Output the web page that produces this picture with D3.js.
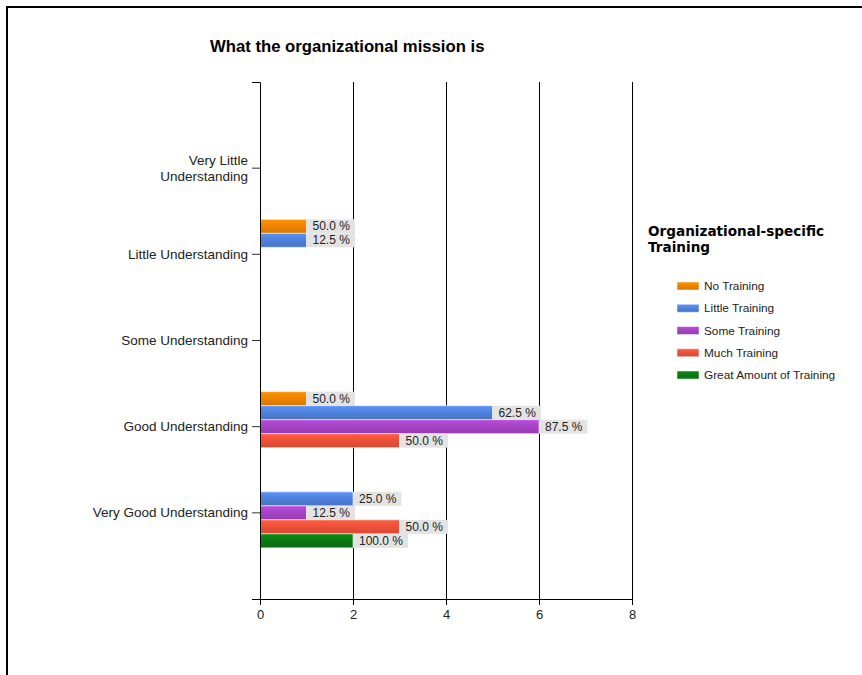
<!DOCTYPE html>
<html>
<head>
<meta charset="utf-8">
<script src="https://cdn.jsdelivr.net/npm/d3@7/dist/d3.min.js"></script>
<style>
  html, body { margin: 0; padding: 0; background: #fff; }
  svg { display: block; }
</style>
</head>
<body>
<svg id="chart" width="862" height="675"></svg>
<script>
// Response categories, top to bottom
const categories = [
  "Very Little Understanding",
  "Little Understanding",
  "Some Understanding",
  "Good Understanding",
  "Very Good Understanding"
];
const categoryLines = [
  ["Very Little", "Understanding"],
  ["Little Understanding"],
  ["Some Understanding"],
  ["Good Understanding"],
  ["Very Good Understanding"]
];

// Training groups (legend order)
const seriesNames = ["No Training", "Little Training", "Some Training", "Much Training", "Great Amount of Training"];
const seriesColors = ["#f08300", "#4f82dd", "#a643c6", "#ee5139", "#0b7a12"];

// Counts per category for each training group
const noTraining     = [0, 1, 0, 1, 0];
const littleTraining = [0, 1, 0, 5, 2];
const someTraining   = [0, 0, 0, 6, 1];
const muchTraining   = [0, 0, 0, 3, 3];
const greatTraining  = [0, 0, 0, 0, 2];

// Share of each group's respondents (bar labels)
const noTrainingPct     = [null, 50.0, null, 50.0, null];
const littleTrainingPct = [null, 12.5, null, 62.5, 25.0];
const someTrainingPct   = [null, null, null, 87.5, 12.5];
const muchTrainingPct   = [null, null, null, 50.0, 50.0];
const greatTrainingPct  = [null, null, null, null, 100.0];

const xTicks = [0, 2, 4, 6, 8];

const seriesValues = [noTraining, littleTraining, someTraining, muchTraining, greatTraining];
const seriesPct = [noTrainingPct, littleTrainingPct, someTrainingPct, muchTrainingPct, greatTrainingPct];

const svg = d3.select("#chart");
const font = "'Liberation Sans', Arial, sans-serif";

// Frame
svg.append("path")
  .attr("d", "M7,675V7H862")
  .attr("fill", "none").attr("stroke", "#000").attr("stroke-width", 2);

// Title
svg.append("text")
  .attr("x", 210).attr("y", 52)
  .attr("font-family", font).attr("font-weight", "bold").attr("font-size", 16.7)
  .attr("fill", "#000")
  .text("What the organizational mission is");

const plot = { left: 260, right: 632, top: 82, bottom: 599 };

const x = d3.scaleLinear().domain([0, 8]).range([plot.left, plot.right]);
const y = d3.scaleBand().domain(categories).range([plot.top, plot.bottom])
  .paddingInner(0).paddingOuter(0.5);
const ySub = d3.scaleBand().domain(seriesNames).range([-35, 35]);

// Gradients for bars
const defs = svg.append("defs");
seriesColors.forEach((c, i) => {
  const g = defs.append("linearGradient").attr("id", "g" + i)
    .attr("x1", 0).attr("y1", 0).attr("x2", 0).attr("y2", 1);
  g.append("stop").attr("offset", "0%").attr("stop-color", d3.color(c).brighter(0.35));
  g.append("stop").attr("offset", "45%").attr("stop-color", c);
  g.append("stop").attr("offset", "100%").attr("stop-color", d3.color(c).darker(0.3));
});

// Vertical gridlines
svg.append("g").selectAll("line")
  .data(xTicks.filter(t => t > 0))
  .join("line")
  .attr("x1", d => x(d)).attr("x2", d => x(d))
  .attr("y1", plot.top).attr("y2", plot.bottom)
  .attr("stroke", "#000").attr("stroke-width", 1)
  .attr("shape-rendering", "crispEdges");

// Bars
const barData = [];
seriesValues.forEach((vals, si) => {
  vals.forEach((v, ci) => {
    if (v > 0) barData.push({ si, ci, v, pct: seriesPct[si][ci] });
  });
});

const barG = svg.append("g");
barG.selectAll("rect")
  .data(barData)
  .join("rect")
  .attr("x", x(0))
  .attr("y", d => y(categories[d.ci]) + y.bandwidth() / 2 + ySub(seriesNames[d.si]))
  .attr("width", d => x(d.v) - x(0))
  .attr("height", ySub.bandwidth())
  .attr("fill", d => `url(#g${d.si})`)
  .attr("stroke", "rgba(255,255,255,0.55)").attr("stroke-width", 1);

// Bar value labels
const labelG = svg.append("g");
barData.forEach(d => {
  if (d.pct == null) return;
  const yTop = y(categories[d.ci]) + y.bandwidth() / 2 + ySub(seriesNames[d.si]);
  const g = labelG.append("g");
  const bg = g.append("rect").attr("fill", "#e3e3e3");
  const t = g.append("text")
    .attr("x", x(d.v) + 6).attr("y", yTop + ySub.bandwidth() / 2 + 4)
    .attr("font-family", font).attr("font-size", 12).attr("fill", "#222")
    .text(d.pct.toFixed(1) + " %");
  const w = t.node().getComputedTextLength();
  bg.attr("x", x(d.v)).attr("y", yTop).attr("width", w + 11).attr("height", ySub.bandwidth());
});

// Y axis
const yAxis = svg.append("g")
  .attr("transform", `translate(${plot.left},0)`)
  .call(d3.axisLeft(y).tickSize(8).tickSizeOuter(8).tickFormat(""));
yAxis.select(".domain").attr("stroke", "#000");
yAxis.selectAll(".tick line").attr("stroke", "#333");

svg.append("g").selectAll("text")
  .data(categories)
  .join("text")
  .attr("text-anchor", "end")
  .attr("font-family", font).attr("font-size", 13.5).attr("fill", "#222")
  .each(function (d, i) {
    const lines = categoryLines[i];
    const cy = y(d) + y.bandwidth() / 2;
    const lh = 16;
    const start = cy - (lines.length - 1) * lh / 2 + 4.5;
    d3.select(this).selectAll("tspan").data(lines).join("tspan")
      .attr("x", 248).attr("y", (l, j) => start + j * lh).text(l => l);
  });

// X axis
const xAxis = svg.append("g")
  .attr("transform", `translate(0,${plot.bottom})`)
  .call(d3.axisBottom(x).tickValues(xTicks).tickSize(6).tickSizeOuter(0).tickFormat(d3.format("d")));
xAxis.select(".domain").attr("stroke", "#000");
xAxis.selectAll(".tick line").attr("stroke", "#000");
xAxis.selectAll(".tick text")
  .attr("font-family", font).attr("font-size", 13).attr("fill", "#222").attr("dy", "0.85em");

// Legend
const legend = svg.append("g");
legend.append("text")
  .attr("font-family", "'DejaVu Sans', Verdana, sans-serif").attr("font-weight", "bold")
  .attr("font-size", 13.6).attr("fill", "#000")
  .selectAll("tspan").data(["Organizational-specific", "Training"]).join("tspan")
  .attr("x", 648).attr("y", (d, i) => 236 + i * 16).text(d => d);

const itemY = d3.scalePoint().domain(seriesNames).range([286, 375]);
const items = legend.selectAll("g.item").data(seriesNames).join("g").attr("class", "item");
items.append("rect")
  .attr("x", 677).attr("y", d => itemY(d) - 4)
  .attr("width", 22).attr("height", 8)
  .attr("fill", (d, i) => `url(#g${i})`)
  .attr("stroke", "rgba(255,255,255,0.5)");
items.append("text")
  .attr("x", 704).attr("y", d => itemY(d) + 4)
  .attr("font-family", font).attr("font-size", 11.8).attr("fill", "#222")
  .text(d => d);
</script>
</body>
</html>
